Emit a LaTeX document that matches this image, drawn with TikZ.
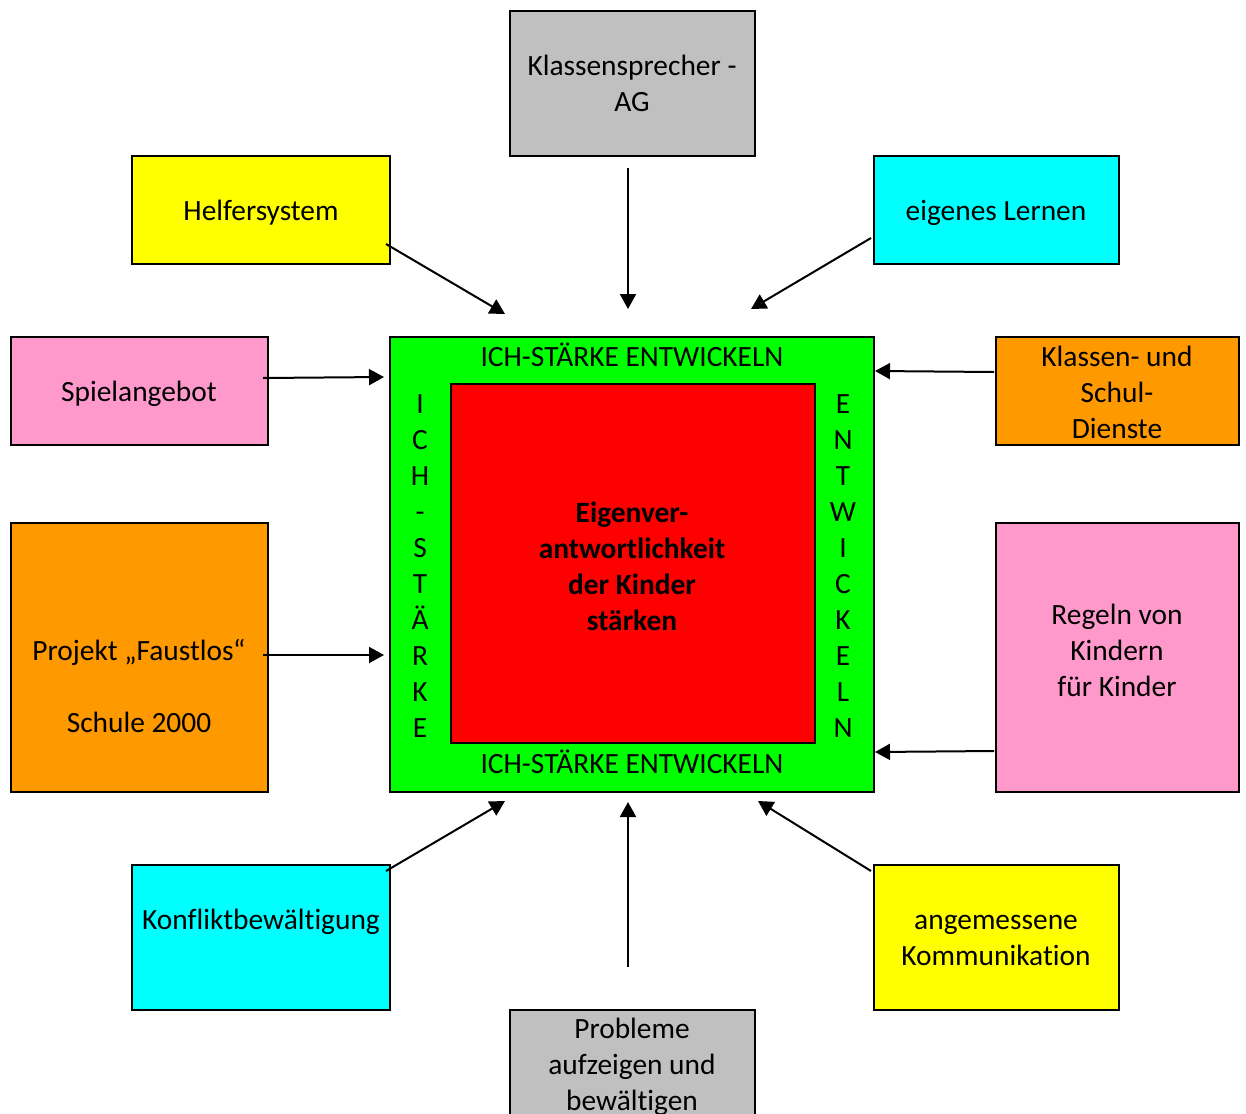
\documentclass[tikz,border=0pt]{standalone}
\usepackage{fontspec}
\setmainfont{Carlito}[Ligatures=NoCommon]
\usetikzlibrary{arrows.meta}

\definecolor{grau}{HTML}{C0C0C0}
\definecolor{gelb}{HTML}{FFFF00}
\definecolor{tuerkis}{HTML}{00FFFF}
\definecolor{rosa}{HTML}{FF99CC}
\definecolor{orange}{HTML}{FF9900}
\definecolor{gruen}{HTML}{00FF00}
\definecolor{rot}{HTML}{FF0000}

\tikzset{
  kasten/.style={draw, line width=1pt, inner sep=0pt},
  txt/.style={align=center, inner sep=0pt, font=\fontsize{14.7}{18}\selectfont},
  pfeil/.style={line width=1pt, -{Triangle[length=7.5pt, width=8pt]}}
}

\begin{document}
\begin{tikzpicture}[x=0.5pt, y=-0.5pt]
\useasboundingbox (0, 0) rectangle (1246, 1113);
\clip (0, 0) rectangle (1246, 1113);
\node[kasten, fill=gruen, minimum width=242pt, minimum height=227.5pt] (mitte) at (632, 564.5) {};
\node[kasten, fill=rot, minimum width=182pt, minimum height=179.5pt] (kern) at (633, 563.5) {};
\node[txt, font=\fontsize{14.7}{18}\selectfont\bfseries] (kerntxt) at (632, 566) {Eigenver-\\antwortlichkeit\\der Kinder\\stärken};
\node[txt] (oben) at (632, 355) {ICH-STÄRKE ENTWICKELN};
\node[txt] (unten) at (632, 762) {ICH-STÄRKE ENTWICKELN};
\node[txt] (links) at (420, 566) {I\\C\\H\\-\\S\\T\\Ä\\R\\K\\E};
\node[txt] (rechts) at (843, 566) {E\\N\\T\\W\\I\\C\\K\\E\\L\\N};

\node[kasten, fill=grau, minimum width=122.5pt, minimum height=72.5pt] (sprecher) at (632.5, 83.5) {};
\node[txt] (sprechertxt) at (632, 83) {Klassensprecher -\\AG};
\node[kasten, fill=gelb, minimum width=129pt, minimum height=54pt] (helfer) at (261, 210) {};
\node[txt] (helfertxt) at (261, 213) {Helfersystem};
\node[kasten, fill=tuerkis, minimum width=122.5pt, minimum height=54pt] (lernen) at (996.5, 210) {};
\node[txt] (lernentxt) at (996, 213) {eigenes Lernen};
\node[kasten, fill=rosa, minimum width=128.5pt, minimum height=54pt] (spiel) at (139.5, 391) {};
\node[txt] (spieltxt) at (139, 394) {Spielangebot};
\node[kasten, fill=orange, minimum width=121.5pt, minimum height=54pt] (dienste) at (1117.5, 391) {};
\node[txt] (dienstetxt) at (1117, 392) {Klassen- und\\Schul-\\Dienste};
\node[kasten, fill=orange, minimum width=128.5pt, minimum height=134.5pt] (projekt) at (139.5, 657.5) {};
\node[txt] (projekttxt) at (139, 686) {Projekt „Faustlos“\\\mbox{}\\Schule 2000};
\node[kasten, fill=rosa, minimum width=121.5pt, minimum height=134.5pt] (regeln) at (1117.5, 657.5) {};
\node[txt] (regelntxt) at (1117, 650) {Regeln von\\Kindern\\für Kinder};
\node[kasten, fill=tuerkis, minimum width=129pt, minimum height=72.5pt] (konflikt) at (261, 937.5) {};
\node[txt] (konflikttxt) at (261, 922) {Konfliktbewältigung};
\node[kasten, fill=gelb, minimum width=122.5pt, minimum height=72.5pt] (komm) at (996.5, 937.5) {};
\node[txt] (kommtxt) at (996, 940) {angemessene\\Kommunikation};
\node[kasten, fill=grau, minimum width=122.5pt, minimum height=65pt] (probleme) at (632.5, 1075) {};
\node[txt] (problemetxt) at (632, 1067) {Probleme\\aufzeigen und\\bewältigen};

\draw[pfeil] ([shift={(-4.5, 11)}]sprecher.south) -- ([shift={(-4, -27)}]mitte.north);
\draw[pfeil] ([shift={(-5, 34)}]helfer.east) -- ([shift={(-127, -22)}]mitte.north);
\draw[pfeil] ([shift={(-2, 28)}]lernen.west) -- ([shift={(119, -27)}]mitte.north);
\draw[pfeil] ([shift={(-6, -13)}]spiel.east) -- ([shift={(-5, 41)}]mitte.north west);
\draw[pfeil] ([shift={(-1, -19)}]dienste.west) -- ([shift={(0, 35)}]mitte.north east);
\draw[pfeil] ([shift={(-6, -2.5)}]projekt.east) -- ([shift={(-5, 90.5)}]mitte.west);
\draw[pfeil] ([shift={(-1, 93.5)}]regeln.west) -- ([shift={(0, -41)}]mitte.south east);
\draw[pfeil] ([shift={(-5, 7)}]konflikt.north east) -- ([shift={(-127, 8)}]mitte.south);
\draw[pfeil] ([shift={(-2, 7)}]komm.north west) -- ([shift={(126, 8)}]mitte.south);
\draw[pfeil] ([shift={(-4.5, -42)}]probleme.north) -- ([shift={(-4, 9)}]mitte.south);
\end{tikzpicture}
\end{document}
